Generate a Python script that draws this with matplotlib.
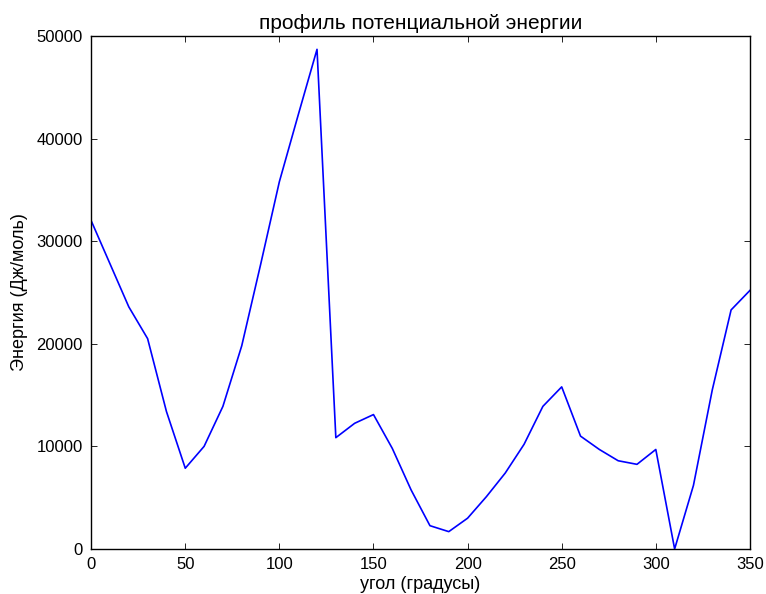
import matplotlib
matplotlib.use("Agg")
import matplotlib.pyplot as plt

plt.rcParams['font.family'] = ['Liberation Sans', 'DejaVu Sans']

angles = list(range(0, 360, 10))
energy = [32000, 27800, 23600, 20500, 13400, 7870, 10000, 13900, 19800, 27700,
          35800, 42300, 48700, 10850, 12250, 13100, 9800, 5750, 2270, 1690,
          3000, 5100, 7400, 10200, 13900, 15800, 11000, 9700, 8600, 8250,
          9700, 0, 6200, 15500, 23300, 25200]

xticks = [0, 50, 100, 150, 200, 250, 300, 350]
yticks = [0, 10000, 20000, 30000, 40000, 50000]

fig = plt.figure(figsize=(7.66, 5.94), dpi=100, facecolor='white')
ax = fig.add_axes([0.119, 0.0758, 0.86, 0.8636])
ax.plot(angles, energy, color='#0000ff', linewidth=1.2)
ax.set_xlim(0, 350)
ax.set_ylim(0, 50000)
ax.set_xticks(xticks)
ax.set_yticks(yticks)
ax.tick_params(direction='in', top=True, right=True, length=4, width=0.6, labelsize=12, pad=6)
ax.set_title('профиль потенциальной энергии', fontsize=15, pad=5)
ax.set_xlabel('угол (градусы)', fontsize=13, labelpad=3)
ax.set_ylabel('Энергия (Дж/моль)', fontsize=13, labelpad=6)
for s in ax.spines.values():
    s.set_linewidth(1.0)
fig.savefig('out.png', dpi=100, facecolor='white')
